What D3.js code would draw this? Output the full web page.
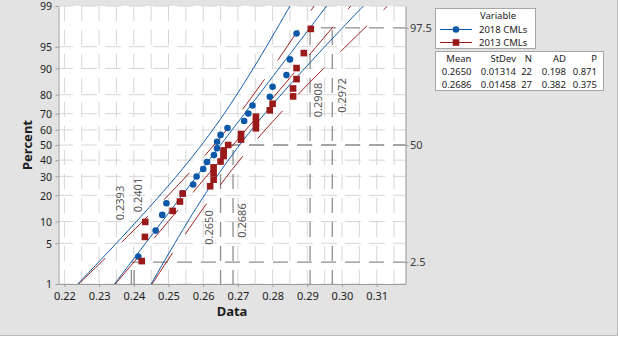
<!DOCTYPE html>
<html>
<head>
<meta charset="utf-8">
<script src="https://cdn.jsdelivr.net/npm/d3@7"></script>
<style>
  html, body { margin: 0; padding: 0; background: #ffffff; }
  svg { display: block; font-family: "Noto Sans", "Open Sans", sans-serif; }
</style>
</head>
<body>
<svg id="chart" width="620" height="338"></svg>
<script>
// ---------------- data ----------------
const seriesNames = ["2018 CMLs", "2013 CMLs"];
const cml2018 = [0.2413, 0.2463, 0.2482, 0.2494, 0.2541, 0.2571, 0.2581, 0.2600, 0.2611, 0.2631, 0.2640,
                 0.2640, 0.2650, 0.2670, 0.2718, 0.2730, 0.2742, 0.2792, 0.2800, 0.2840, 0.2850, 0.2869];
const pct2018 = [3.1, 7.6, 12.1, 16.5, 21.0, 25.4, 29.9, 34.4, 38.8, 43.3, 47.8,
                 52.2, 56.7, 61.2, 65.6, 70.1, 74.6, 79.0, 83.5, 87.9, 92.4, 96.9];
const cml2013 = [0.2423, 0.2432, 0.2433, 0.2512, 0.2533, 0.2541, 0.2620, 0.2630, 0.2630, 0.2630, 0.2650,
                 0.2659, 0.2659, 0.2672, 0.2709, 0.2709, 0.2752, 0.2752, 0.2752, 0.2792, 0.2800,
                 0.2859, 0.2859, 0.2869, 0.2869, 0.2890, 0.2910];
const pct2013 = [2.6, 6.2, 9.9, 13.5, 17.2, 20.8, 24.5, 28.1, 31.8, 35.4, 39.1,
                 42.7, 46.4, 50.0, 53.6, 57.3, 61.0, 64.6, 68.2, 71.9, 75.5,
                 79.2, 82.8, 86.5, 90.1, 93.8, 97.4];
const statHeaders = ["Mean", "StDev", "N", "AD", "P"];
const statMean = [0.2650, 0.2686];
const statStDev = [0.01314, 0.01458];
const statN = [22, 27];
const statAD = ["0.198", "0.382"];
const statP = ["0.871", "0.375"];
const refPercents = [2.5, 50, 97.5];
const refValues2018 = [0.2393, 0.2650, 0.2908];
const refValues2013 = [0.2401, 0.2686, 0.2972];
const xTickValues = [0.22, 0.23, 0.24, 0.25, 0.26, 0.27, 0.28, 0.29, 0.30, 0.31];
const yTickPercents = [1, 5, 10, 20, 30, 40, 50, 60, 70, 80, 90, 95, 99];

// ---------------- helpers ----------------
function qnorm(p) {
  const a=[-3.969683028665376e+01,2.209460984245205e+02,-2.759285104469687e+02,1.383577518672690e+02,-3.066479806614716e+01,2.506628277459239e+00];
  const b=[-5.447609879822406e+01,1.615858368580409e+02,-1.556989798598866e+02,6.680131188771972e+01,-1.328068155288572e+01];
  const c=[-7.784894002430293e-03,-3.223964580411365e-01,-2.400758277161838e+00,-2.549732539343734e+00,4.374664141464968e+00,2.938163982698783e+00];
  const d=[7.784695709041462e-03,3.224671290700398e-01,2.445134137142996e+00,3.754408661907416e+00];
  const pl = 0.02425, ph = 1 - pl;
  if (p < pl) { const q = Math.sqrt(-2*Math.log(p)); return (((((c[0]*q+c[1])*q+c[2])*q+c[3])*q+c[4])*q+c[5])/((((d[0]*q+d[1])*q+d[2])*q+d[3])*q+1); }
  if (p <= ph) { const q = p-0.5, r = q*q; return (((((a[0]*r+a[1])*r+a[2])*r+a[3])*r+a[4])*r+a[5])*q/(((((b[0]*r+b[1])*r+b[2])*r+b[3])*r+b[4])*r+1); }
  const q = Math.sqrt(-2*Math.log(1-p)); return -(((((c[0]*q+c[1])*q+c[2])*q+c[3])*q+c[4])*q+c[5])/((((d[0]*q+d[1])*q+d[2])*q+d[3])*q+1);
}

// ---------------- layout ----------------
const L = 58.5, R = 405.5, T = 6, B = 284;
const colors = ["#0b58a8", "#9a1a1a"];
const gridColor = "#d6d6d6", refColor = "#8e8e8e", axisColor = "#9c9c9c";

const svg = d3.select("#chart");
svg.append("rect").attr("x", 0).attr("y", 0).attr("width", 618).attr("height", 336).attr("fill", "#e3e3e3");
svg.append("path").attr("d", "M617.5,0V335.5H0").attr("fill", "none").attr("stroke", "#b9b9b9");
svg.append("rect").attr("x", L).attr("y", T).attr("width", R - L).attr("height", B - T).attr("fill", "#ffffff");

const x = d3.scaleLinear().domain([0.2183, 0.3183]).range([L, R]);
const zMax = qnorm(0.99);
const yz = d3.scaleLinear().domain([-zMax, zMax]).range([B, T]);
const yp = p => yz(qnorm(p / 100));

svg.append("defs").append("clipPath").attr("id", "plotclip")
  .append("rect").attr("x", L).attr("y", T).attr("width", R - L).attr("height", B - T);

// grid
const grid = svg.append("g");
const gridX = d3.range(44, 64).map(i => +(i * 0.005).toFixed(3));
grid.selectAll("line.gx").data(gridX).join("line")
  .attr("x1", d => x(d)).attr("x2", d => x(d)).attr("y1", T).attr("y2", B)
  .attr("stroke", gridColor).attr("stroke-dasharray", "15,9");
grid.selectAll("line.gy").data(yTickPercents).join("line")
  .attr("x1", L).attr("x2", R).attr("y1", d => yp(d)).attr("y2", d => yp(d))
  .attr("stroke", gridColor).attr("stroke-dasharray", "16,8").attr("stroke-dashoffset", L - 57);

// reference (percentile) lines
const ref = svg.append("g");
refPercents.forEach((p, i) => {
  const yy = yp(p);
  const xs = [refValues2018[i], refValues2013[i]];
  const xStart = x(Math.min(...xs));
  ref.append("line").attr("x1", xStart).attr("x2", R).attr("y1", yy).attr("y2", yy)
    .attr("stroke", refColor).attr("stroke-width", 1.4)
    .attr("stroke-dasharray", "15,9").attr("stroke-dashoffset", xStart - 57);
  xs.forEach(v => {
    ref.append("line").attr("x1", x(v)).attr("x2", x(v)).attr("y1", yy).attr("y2", B)
      .attr("stroke", refColor).attr("stroke-width", 1.3)
      .attr("stroke-dasharray", "15,9").attr("stroke-dashoffset", yy - T);
  });
});

// percentile value labels (rotated)
const refLabelLayout = [
  { v: refValues2018[0], dx: -11.5, cy: 203 },
  { v: refValues2013[0], dx: 3.2, cy: 195 },
  { v: refValues2018[1], dx: -11.7, cy: 227.5 },
  { v: refValues2013[1], dx: 8.7, cy: 220.5 },
  { v: refValues2018[2], dx: 7.4, cy: 100 },
  { v: refValues2013[2], dx: 9.2, cy: 95.5 }
];
svg.append("g").selectAll("text").data(refLabelLayout).join("text")
  .attr("transform", d => `translate(${x(d.v) + d.dx},${d.cy}) rotate(-90)`)
  .attr("text-anchor", "middle").attr("dominant-baseline", "central")
  .attr("font-size", 11).attr("fill", "#5a5a5a")
  .text(d => d.v.toFixed(4));

// fitted lines and confidence bands
const zs = d3.range(0, 121).map(i => -zMax + i * (2 * zMax / 120));
const lines = svg.append("g").attr("clip-path", "url(#plotclip)");
[1, 0].forEach(s => {
  const m = statMean[s], sd = statStDev[s], n = statN[s];
  const fit = z => m + z * sd;
  const hw = z => 1.96 * sd * Math.sqrt(1 / n + z * z / (2 * n));
  const curves = [z => fit(z) - hw(z), fit, z => fit(z) + hw(z)];
  curves.forEach(f => {
    lines.append("path")
      .attr("d", d3.line().x(z => x(f(z))).y(z => yz(z))(zs))
      .attr("fill", "none").attr("stroke", colors[s]).attr("stroke-width", 1)
      .attr("stroke-dasharray", s === 1 ? "37,23" : null);
  });
});

// axes
const xAxis = d3.axisBottom(x).tickValues(xTickValues).tickFormat(d3.format(".2f")).tickSize(3).tickSizeOuter(0);
const gx = svg.append("g").attr("transform", `translate(0,${B})`).call(xAxis);
const yAxis = d3.axisLeft(yz).tickValues(yTickPercents.map(p => qnorm(p / 100)))
  .tickFormat((d, i) => yTickPercents[i]).tickSize(3).tickSizeOuter(0);
const gy = svg.append("g").attr("transform", `translate(${L},0)`).call(yAxis);
const yAxisR = d3.axisRight(yz).tickValues(refPercents.map(p => qnorm(p / 100)))
  .tickFormat((d, i) => refPercents[i]).tickSize(3).tickSizeOuter(0);
const gyr = svg.append("g").attr("transform", `translate(${R},0)`).call(yAxisR);
[gx, gy, gyr].forEach(g => {
  g.select(".domain").attr("stroke", axisColor);
  g.selectAll(".tick line").attr("stroke", axisColor);
  g.selectAll("text").attr("font-size", 11).attr("font-family", "Noto Sans, sans-serif").attr("fill", "#1c1c1c");
});
gx.selectAll("text").attr("dy", "0.95em");
gy.selectAll("text").attr("x", -6.5).attr("font-size", 10.5).attr("dy", "0.36em");
gyr.selectAll("text").attr("x", 4.5).attr("fill", "#3c3c3c");

// axis titles
svg.append("text").attr("x", (L + R) / 2).attr("y", 316).attr("text-anchor", "middle")
  .attr("font-size", 13).attr("font-weight", "bold").attr("fill", "#1c1c1c").text("Data");
svg.append("text").attr("transform", `translate(31.5,${(T + B) / 2}) rotate(-90)`).attr("text-anchor", "middle")
  .attr("font-size", 13).attr("font-weight", "bold").attr("fill", "#1c1c1c").text("Percent");

// points
const pts = svg.append("g");
pts.selectAll("circle").data(cml2018.map((v, i) => [v, pct2018[i]])).join("circle")
  .attr("cx", d => x(d[0])).attr("cy", d => yp(d[1])).attr("r", 3.3).attr("fill", colors[0]);
const sq = 6.6;
pts.selectAll("rect").data(cml2013.map((v, i) => [v, pct2013[i]])).join("rect")
  .attr("x", d => x(d[0]) - sq / 2).attr("y", d => yp(d[1]) - sq / 2)
  .attr("width", sq).attr("height", sq).attr("fill", colors[1]);

// legend
const lg = svg.append("g").attr("font-size", 9.5).attr("fill", "#1c1c1c");
lg.append("rect").attr("x", 435.5).attr("y", 8.5).attr("width", 100).attr("height", 40)
  .attr("fill", "#ffffff").attr("stroke", "#a6a6a6");
lg.append("text").attr("x", 498).attr("y", 18.8).attr("text-anchor", "middle").text("Variable");
seriesNames.forEach((nm, i) => {
  const yy = 29.5 + i * 13;
  lg.append("line").attr("x1", 440).attr("x2", 472).attr("y1", yy).attr("y2", yy).attr("stroke", colors[i]);
  if (i === 0) lg.append("circle").attr("cx", 456).attr("cy", yy).attr("r", 3.3).attr("fill", colors[i]);
  else lg.append("rect").attr("x", 456 - sq / 2).attr("y", yy - sq / 2).attr("width", sq).attr("height", sq).attr("fill", colors[i]);
  lg.append("text").attr("x", 479).attr("y", yy + 3.4).text(nm);
});

// stats table
const st = svg.append("g").attr("font-size", 9.5).attr("fill", "#1c1c1c").attr("text-anchor", "end");
st.append("rect").attr("x", 435.5).attr("y", 51.5).attr("width", 168).attr("height", 39)
  .attr("fill", "#ffffff").attr("stroke", "#a6a6a6");
const colRight = [471.5, 516, 532, 566, 597];
statHeaders.forEach((h, j) => st.append("text").attr("x", colRight[j]).attr("y", 62).text(h));
[0, 1].forEach(i => {
  const row = [statMean[i].toFixed(4), statStDev[i].toFixed(5), String(statN[i]), statAD[i], statP[i]];
  row.forEach((t, j) => st.append("text").attr("x", colRight[j]).attr("y", 75 + i * 13).text(t));
});
</script>
</body>
</html>
